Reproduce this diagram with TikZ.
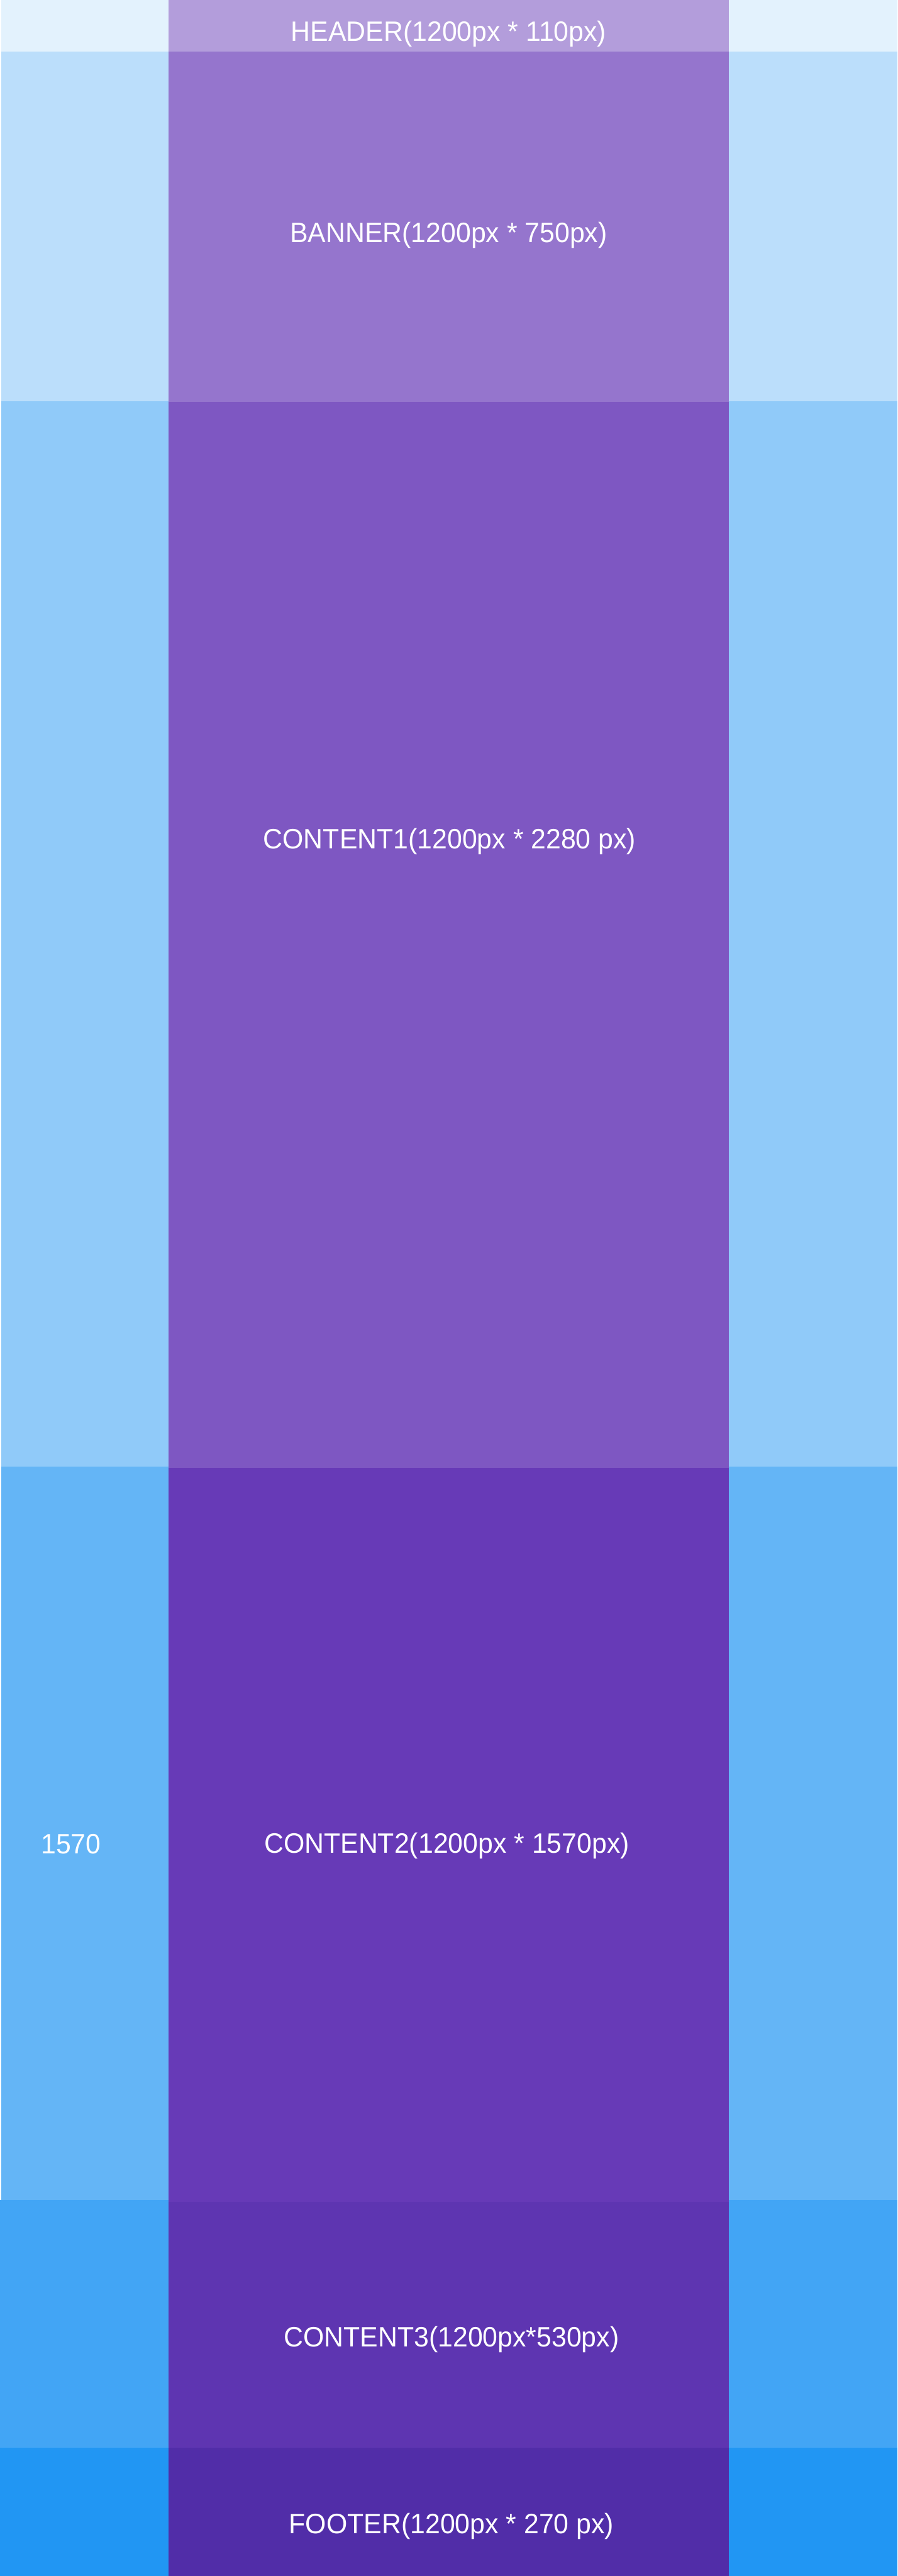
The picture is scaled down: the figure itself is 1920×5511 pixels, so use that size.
\documentclass[tikz,border=0pt]{standalone}
\usepackage{fontspec}
\setmainfont{Liberation Sans}
\definecolor{sideA}{HTML}{E3F2FD}
\definecolor{sideB}{HTML}{BBDEFB}
\definecolor{sideC}{HTML}{90CAF9}
\definecolor{sideD}{HTML}{64B5F6}
\definecolor{sideE}{HTML}{42A5F5}
\definecolor{sideF}{HTML}{2196F3}
\definecolor{midA}{HTML}{B39DDB}
\definecolor{midB}{HTML}{9575CD}
\definecolor{midC}{HTML}{7E57C2}
\definecolor{midD}{HTML}{673AB7}
\definecolor{midE}{HTML}{5E35B1}
\definecolor{midF}{HTML}{512DA8}
\tikzset{
  lbl/.style={text=white, anchor=base, inner sep=0pt, font=\fontsize{30}{36}\selectfont},
}
\newcommand{\sq}[1]{\scalebox{0.96}[1]{#1}}
\begin{document}
\begin{tikzpicture}[x=0.5pt,y=-0.5pt]
\useasboundingbox (0,0) rectangle (1920,5511);
\fill[white] (0,0) rectangle (1920,5511);
% side bands
\fill[sideA] (3,0) rectangle (1920,110);
\fill[sideB] (3,110) rectangle (1920,859);
\fill[sideC] (3,859) rectangle (1920,3137);
\fill[sideD] (3,3137) rectangle (1920,4706);
\fill[sideE] (0,4706) rectangle (1920,5236);
\fill[sideF] (0,5236) rectangle (1920,5511);
% central column
\fill[midA] (360,0) rectangle (1560,110);
\fill[midB] (360,110) rectangle (1560,860);
\fill[midC] (360,860) rectangle (1560,3140);
\fill[midD] (360,3140) rectangle (1560,4710);
\fill[midE] (360,4710) rectangle (1560,5236);
\fill[midF] (360,5236) rectangle (1560,5511);
% labels
\node[lbl] (header) at (960,88) {\sq{HEADER(1200px * 110px)}};
\node[lbl] (banner) at (960,519) {\sq{BANNER(1200px * 750px)}};
\node[lbl] (content1) at (962,1816) {\sq{CONTENT1(1200px * 2280 px)}};
\node[lbl] (content2) at (956,3965) {\sq{CONTENT2(1200px * 1570px)}};
\node[lbl] (content3) at (966,5020) {\sq{CONTENT3(1200px*530px)}};
\node[lbl] (footer) at (966,5420) {\sq{FOOTER(1200px * 270 px)}};
\node[lbl] (side2) at (152,3966) {\sq{1570}};
\end{tikzpicture}
\end{document}
